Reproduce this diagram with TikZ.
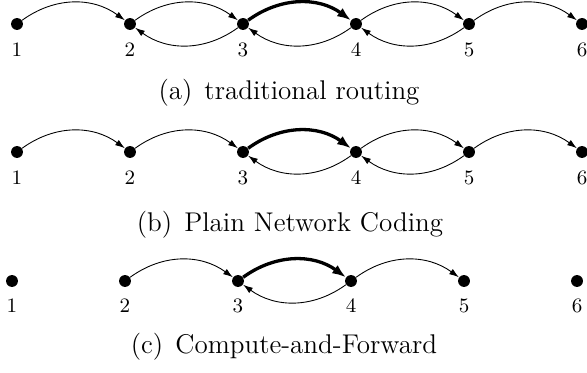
\documentclass[tikz,border=0pt]{standalone}
\usetikzlibrary{arrows.meta}
\begin{document}
\begin{tikzpicture}[x=0.4545pt,y=-0.4545pt,
  dot/.style={circle,fill=black,inner sep=0pt,minimum size=5.4pt},
  lab/.style={anchor=base,inner sep=0pt,font=\fontsize{9.3}{11}\selectfont},
  captext/.style={anchor=base,inner sep=0pt,font=\fontsize{12.3}{14}\selectfont},
  arr/.style={line width=0.4pt,-{Latex[length=4.4pt,width=2.9pt]},bend left=36},
  big/.style={line width=1.5pt,-{Latex[length=6.2pt,width=4.6pt]},bend left=36}]
\useasboundingbox (0,0) rectangle (587,373);
% row a
\foreach \i/\x in {1/17,2/130,3/243,4/356,5/469,6/582}{
  \node[dot] (a\i) at (\x,24) {};
  \node[lab] (la\i) at (\x,57) {\i};
}
\draw[arr] (a1) to (a2);
\draw[arr] (a2) to (a3);
\draw[arr] (a3) to (a2);
\draw[big] (a3) to (a4);
\draw[arr] (a4) to (a3);
\draw[arr] (a4) to (a5);
\draw[arr] (a5) to (a4);
\draw[arr] (a5) to (a6);
\node[captext] (capa) at (289,100) {(a)\hspace{5.5pt}traditional routing};
% row b
\foreach \i/\x in {1/17,2/130,3/243,4/356,5/469,6/582}{
  \node[dot] (b\i) at (\x,152) {};
  \node[lab] (lb\i) at (\x,185) {\i};
}
\draw[arr] (b1) to (b2);
\draw[arr] (b2) to (b3);
\draw[big] (b3) to (b4);
\draw[arr] (b4) to (b3);
\draw[arr] (b4) to (b5);
\draw[arr] (b5) to (b4);
\draw[arr] (b5) to (b6);
\node[captext] (capb) at (290,232) {(b)\hspace{5.5pt}Plain Network Coding};
% row c
\foreach \i/\x in {1/12,2/125,3/238,4/351,5/464,6/577}{
  \node[dot] (c\i) at (\x,281) {};
  \node[lab] (lc\i) at (\x,313) {\i};
}
\draw[arr] (c2) to (c3);
\draw[big] (c3) to (c4);
\draw[arr] (c4) to (c3);
\draw[arr] (c4) to (c5);
\node[captext] (capc) at (284,354) {(c)\hspace{5.5pt}Compute-and-Forward};
\end{tikzpicture}
\end{document}
